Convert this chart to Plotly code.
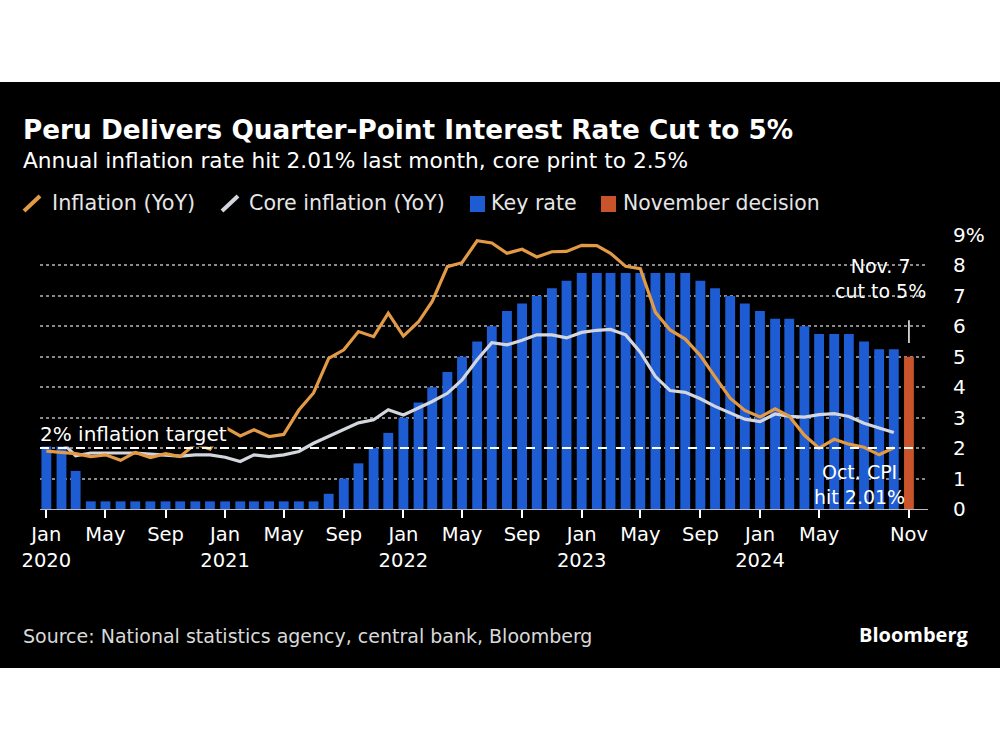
import pandas as pd
import plotly.graph_objects as go

# ---------------- data ----------------
months = pd.date_range("2020-01-01", "2024-10-01", freq="MS")

inflation = [
    1.90, 1.86, 1.82, 1.72, 1.78, 1.60, 1.86, 1.69, 1.82, 1.72, 2.14, 1.97,
    2.68, 2.40, 2.60, 2.38, 2.45, 3.25, 3.81, 4.95, 5.23, 5.83, 5.66, 6.43,
    5.68, 6.15, 6.82, 7.96, 8.09, 8.81, 8.74, 8.40, 8.53, 8.28, 8.45, 8.46,
    8.66, 8.65, 8.40, 7.97, 7.89, 6.46, 5.88, 5.58, 5.04, 4.34, 3.64, 3.24,
    3.02, 3.29, 3.05, 2.42, 2.00, 2.29, 2.13, 2.03, 1.78, 2.01,
]
core_inflation = [
    2.25, 2.20, 1.75, 1.84, 1.84, 1.84, 1.84, 1.80, 1.78, 1.74, 1.78, 1.78,
    1.70, 1.56, 1.78, 1.72, 1.78, 1.89, 2.16, 2.38, 2.60, 2.83, 2.93, 3.26,
    3.09, 3.32, 3.53, 3.80, 4.24, 4.90, 5.46, 5.39, 5.54, 5.72, 5.72, 5.62,
    5.80, 5.87, 5.90, 5.72, 5.15, 4.35, 3.89, 3.83, 3.62, 3.37, 3.15, 2.95,
    2.87, 3.12, 3.04, 3.02, 3.10, 3.13, 3.04, 2.82, 2.66, 2.51,
]
key_rate = [
    2.25, 2.25, 1.25, 0.25, 0.25, 0.25, 0.25, 0.25, 0.25, 0.25, 0.25, 0.25,
    0.25, 0.25, 0.25, 0.25, 0.25, 0.25, 0.25, 0.50, 1.00, 1.50, 2.00, 2.50,
    3.00, 3.50, 4.00, 4.50, 5.00, 5.50, 6.00, 6.50, 6.75, 7.00, 7.25, 7.50,
    7.75, 7.75, 7.75, 7.75, 7.75, 7.75, 7.75, 7.75, 7.50, 7.25, 7.00, 6.75,
    6.50, 6.25, 6.25, 6.00, 5.75, 5.75, 5.75, 5.50, 5.25, 5.25,
]
nov_decision_date = "2024-11-01"
nov_decision = 5.00
inflation_target = 2.0

x_tick_vals = ["2020-01-01", "2020-05-01", "2020-09-01", "2021-01-01", "2021-05-01",
               "2021-09-01", "2022-01-01", "2022-05-01", "2022-09-01", "2023-01-01",
               "2023-05-01", "2023-09-01", "2024-01-01", "2024-05-01", "2024-11-01"]
x_tick_text = ["Jan<br>2020", "May", "Sep", "Jan<br>2021", "May", "Sep", "Jan<br>2022",
               "May", "Sep", "Jan<br>2023", "May", "Sep", "Jan<br>2024", "May", "Nov"]
y_tick_vals = [0, 1, 2, 3, 4, 5, 6, 7, 8, 9]
y_tick_text = ["0", "1", "2", "3", "4", "5", "6", "7", "8", "9%"]

# ---------------- style ----------------
BG = "#000000"
ORANGE = "#E39A44"
CORE = "#D3D6DE"
BLUE = "#1D5CD3"
NOV = "#C9532A"
FONT = "DejaVu Sans"
W, H = 1000, 750


def px(x):
    return x / W


def py(y):
    return 1 - y / H


bar_x = list(months) + [pd.Timestamp(nov_decision_date)]
bar_y = key_rate + [nov_decision]
bar_colors = [BLUE] * len(key_rate) + [NOV]

fig = go.Figure()
fig.add_trace(go.Bar(x=bar_x, y=bar_y, marker=dict(color=bar_colors, line=dict(width=0)),
                     name="Key rate", showlegend=False))
fig.add_trace(go.Scatter(x=months, y=core_inflation, mode="lines",
                         line=dict(color=CORE, width=3.2), name="Core inflation (YoY)",
                         showlegend=False))
fig.add_trace(go.Scatter(x=months, y=inflation, mode="lines",
                         line=dict(color=ORANGE, width=3.2), name="Inflation (YoY)",
                         showlegend=False))

shapes = [
    # black panel
    dict(type="rect", xref="paper", yref="paper", x0=0, x1=1, y0=py(668), y1=py(82),
         fillcolor=BG, line=dict(width=0), layer="below"),
    # target line
    dict(type="line", xref="x domain", yref="y", x0=0, x1=0.985,
         y0=inflation_target, y1=inflation_target,
         line=dict(color="white", width=2, dash="dash"), layer="above"),
    # connector for Nov. 7 note
    dict(type="line", xref="x", yref="y", x0=nov_decision_date, x1=nov_decision_date,
         y0=5.45, y1=6.2, line=dict(color="white", width=1.5)),
    # legend icons
    dict(type="line", xref="paper", yref="paper", x0=px(24), y0=py(211), x1=px(40), y1=py(196),
         line=dict(color=ORANGE, width=4)),
    dict(type="line", xref="paper", yref="paper", x0=px(222), y0=py(211), x1=px(238), y1=py(196),
         line=dict(color=CORE, width=4)),
    dict(type="rect", xref="paper", yref="paper", x0=px(470), x1=px(485), y0=py(212), y1=py(196),
         fillcolor=BLUE, line=dict(width=0)),
    dict(type="rect", xref="paper", yref="paper", x0=px(601), x1=px(616), y0=py(212), y1=py(196),
         fillcolor=NOV, line=dict(width=0)),
]

annotations = [
    dict(text="<b>Peru Delivers Quarter-Point Interest Rate Cut to 5%</b>", x=px(21), y=py(130),
         font=dict(size=26.3, color="white", family=FONT)),
    dict(text="Annual inflation rate hit 2.01% last month, core print to 2.5%", x=px(21), y=py(160),
         font=dict(size=21.7, color="white", family=FONT)),
    dict(text="Inflation (YoY)", x=px(50), y=py(203), font=dict(size=20.8, color="#E6E6E6", family=FONT)),
    dict(text="Core inflation (YoY)", x=px(247), y=py(203), font=dict(size=20.6, color="#E6E6E6", family=FONT)),
    dict(text="Key rate", x=px(489), y=py(203), font=dict(size=20.6, color="#E6E6E6", family=FONT)),
    dict(text="November decision", x=px(621), y=py(203), font=dict(size=20.4, color="#E6E6E6", family=FONT)),
    dict(text="Source: National statistics agency, central bank, Bloomberg", x=px(21), y=py(636),
         font=dict(size=19, color="#D9D9D9", family=FONT)),
    dict(text="<b>Bloomberg</b>", x=px(971), y=py(634), xanchor="right",
         font=dict(size=20, color="white", family="Open Sans")),
    dict(text="2% inflation target", x=px(39), y=py(434), bgcolor=BG, borderpad=0,
         font=dict(size=20, color="white", family=FONT)),
    dict(text="Nov. 7<br>cut to 5%", x=px(880), y=py(278), xanchor="center", align="center",
         font=dict(size=19, color="white", family=FONT)),
    dict(text="Oct. CPI<br>hit 2.01%", x=px(859), y=py(485), xanchor="center", align="center",
         font=dict(size=19, color="white", family=FONT)),
]
for a in annotations:
    a.setdefault("xref", "paper")
    a.setdefault("yref", "paper")
    a.setdefault("xanchor", "left")
    a.setdefault("yanchor", "middle")
    a.setdefault("showarrow", False)

fig.update_layout(
    width=W, height=H,
    margin=dict(l=0, r=0, t=0, b=0, pad=0, autoexpand=False),
    paper_bgcolor="white", plot_bgcolor=BG,
    bargap=0.28, barmode="overlay",
    showlegend=False,
    shapes=shapes, annotations=annotations,
    font=dict(family=FONT, color="white", size=20),
    xaxis=dict(
        domain=[px(40), px(928)], range=["2019-12-19", "2024-12-10"], type="date",
        tickvals=x_tick_vals, ticktext=x_tick_text, automargin=False,
        ticks="outside", ticklen=8, tickwidth=1.5, tickcolor="white",
        tickfont=dict(size=19.5, color="white", family=FONT),
        showgrid=False, showline=True, linecolor="#BBBBBB", linewidth=1,
        zeroline=False,
    ),
    yaxis=dict(
        domain=[py(509), py(235)], range=[0, 9], side="right", automargin=False,
        tickvals=y_tick_vals, ticktext=y_tick_text,
        tickfont=dict(size=20, color="white", family=FONT),
        showgrid=True, gridcolor="#8A8A8A", griddash="dot", gridwidth=1.5,
        zeroline=False, ticks="", ticklabelstandoff=24,
    ),
)

fig.write_html("out.html", config={"displayModeBar": False},
               post_script="document.body.style.margin='0px';")
